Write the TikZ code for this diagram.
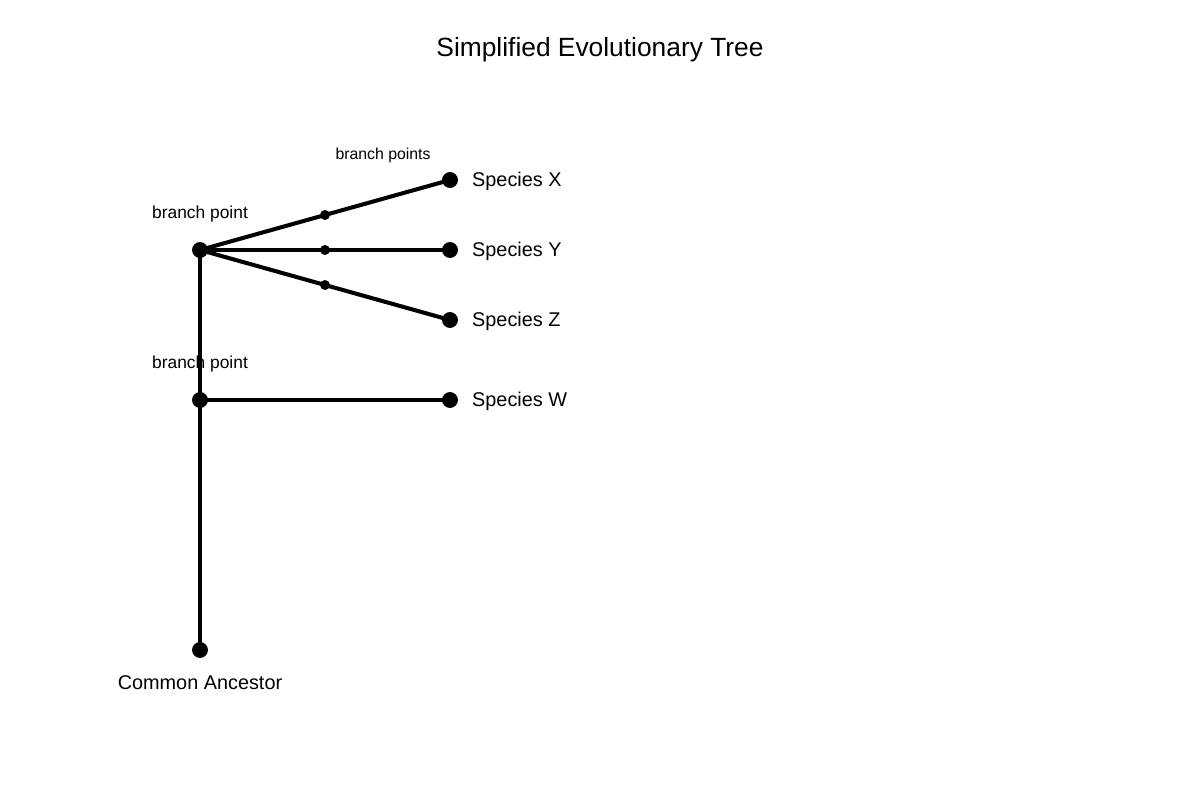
\documentclass[tikz,border=0pt]{standalone}
\usepackage{fontspec}
\setmainfont{Liberation Sans}
\begin{document}
\begin{tikzpicture}[x=0.02cm,y=-0.02cm,
  big/.style={circle,fill=black,inner sep=0pt,minimum size=16*0.567pt},
  small/.style={circle,fill=black,inner sep=0pt,minimum size=10*0.567pt},
  edge/.style={line width=2.3pt},
  sp/.style={anchor=west,font=\fontsize{11.3}{13}\selectfont},
  lab/.style={font=\fontsize{9.9}{12}\selectfont}]
\useasboundingbox (0,0) rectangle (1200,800);
\node[font=\fontsize{15}{18}\selectfont] (title) at (600,50) {Simplified Evolutionary Tree};
\node[big] (a) at (200,650) {};
\node[big] (b1) at (200,400) {};
\node[big] (b2) at (200,250) {};
\node[small] (mx) at (325,215) {};
\node[small] (my) at (325,250) {};
\node[small] (mz) at (325,285) {};
\node[big] (x) at (450,180) {};
\node[big] (y) at (450,250) {};
\node[big] (z) at (450,320) {};
\node[big] (w) at (450,400) {};
\draw[edge] (a.center) -- (b1.center) -- (b2.center);
\draw[edge] (b1.center) -- (w.center);
\draw[edge] (b2.center) -- (mx.center) -- (x.center);
\draw[edge] (b2.center) -- (my.center) -- (y.center);
\draw[edge] (b2.center) -- (mz.center) -- (z.center);
\node[sp] (lx) at (466,181) {Species X};
\node[sp] (ly) at (466,251) {Species Y};
\node[sp] (lz) at (466,321) {Species Z};
\node[sp] (lw) at (466,401) {Species W};
\node[font=\fontsize{11.3}{13}\selectfont] (la) at (200,683) {Common Ancestor};
\node[lab] (l1) at (200,214) {branch point};
\node[lab] (l2) at (200,364) {branch point};
\node[font=\fontsize{9}{11}\selectfont] (l3) at (383,155) {branch points};
\end{tikzpicture}
\end{document}
